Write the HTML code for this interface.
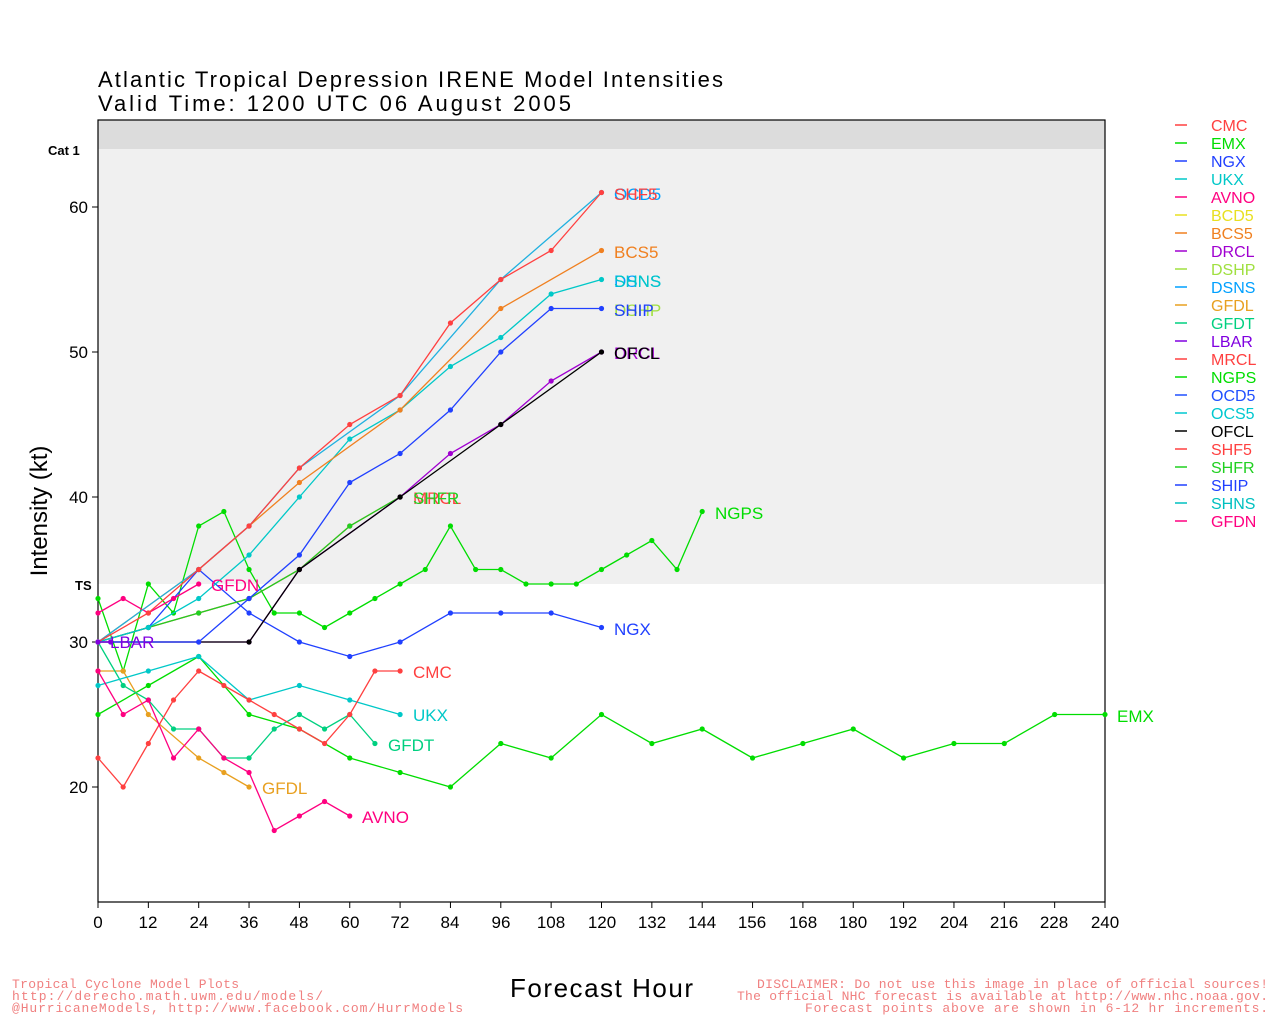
<!DOCTYPE html>
<html><head><meta charset="utf-8"><style>
body{margin:0;background:#fff;}
svg{display:block;font-family:"Liberation Sans",sans-serif;}
</style></head><body>
<svg id="s" width="1280" height="1024" xmlns="http://www.w3.org/2000/svg">
<rect x="0" y="0" width="1280" height="1024" fill="#fff"/>
<rect x="98" y="120" width="1007" height="29" fill="#dcdcdc"/>
<rect x="98" y="149" width="1007" height="435" fill="#f0f0f0"/>
<rect x="98" y="120" width="1007" height="782" fill="none" stroke="#000" stroke-width="1.2"/>
<text x="98" y="87" font-size="22" textLength="625" lengthAdjust="spacing">Atlantic Tropical Depression IRENE Model Intensities</text>
<text x="98" y="111" font-size="22" textLength="473" lengthAdjust="spacing">Valid Time: 1200 UTC 06 August 2005</text>
<text x="48" y="155" font-size="13" font-weight="bold">Cat 1</text>
<text x="75" y="590" font-size="13" font-weight="bold">TS</text>
<g font-size="17" text-anchor="end">
<text x="88" y="213">60</text><text x="88" y="358">50</text><text x="88" y="503">40</text><text x="88" y="648">30</text><text x="88" y="793">20</text>
</g>
<g stroke="#000"><line x1="92" y1="207" x2="98" y2="207"/><line x1="92" y1="352" x2="98" y2="352"/><line x1="92" y1="497" x2="98" y2="497"/><line x1="92" y1="642" x2="98" y2="642"/><line x1="92" y1="787" x2="98" y2="787"/></g>
<text transform="translate(47,511) rotate(-90)" font-size="24" text-anchor="middle">Intensity (kt)</text>
<g id="xt" font-size="17" text-anchor="middle">
<text x="98" y="928">0</text><text x="148" y="928">12</text><text x="199" y="928">24</text><text x="249" y="928">36</text><text x="299" y="928">48</text><text x="350" y="928">60</text><text x="400" y="928">72</text><text x="450" y="928">84</text><text x="501" y="928">96</text><text x="551" y="928">108</text><text x="602" y="928">120</text><text x="652" y="928">132</text><text x="702" y="928">144</text><text x="752" y="928">156</text><text x="803" y="928">168</text><text x="853" y="928">180</text><text x="903" y="928">192</text><text x="954" y="928">204</text><text x="1004" y="928">216</text><text x="1054" y="928">228</text><text x="1105" y="928">240</text>
</g>
<text x="510" y="997" font-size="26" textLength="183" lengthAdjust="spacing">Forecast Hour</text>
<g font-size="13" fill="#f08080" font-family="Liberation Mono,monospace">
<text x="12" y="988" textLength="227" lengthAdjust="spacing">Tropical Cyclone Model Plots</text>
<text x="12" y="1000" textLength="311" lengthAdjust="spacing">http://derecho.math.uwm.edu/models/</text>
<text x="12" y="1012" textLength="451" lengthAdjust="spacing">@HurricaneModels, http://www.facebook.com/HurrModels</text>
<text x="757" y="988" textLength="511" lengthAdjust="spacing">DISCLAIMER: Do not use this image in place of official sources!</text>
<text x="737" y="1000" textLength="531" lengthAdjust="spacing">The official NHC forecast is available at http://www.nhc.noaa.gov.</text>
<text x="805" y="1012" textLength="463" lengthAdjust="spacing">Forecast points above are shown in 6-12 hr increments.</text>
</g>
<g id="lines"></g>
<g font-size="17">
<text x="614" y="200" fill="#00a0ff">OCD5</text><text x="614" y="200" fill="#ff4040">SHF5</text>
<text x="614" y="258" fill="#f08020">BCS5</text>
<text x="614" y="287" fill="#00a0ff">DSNS</text><text x="614" y="287" fill="#00c8c8">SHNS</text>
<text x="614" y="316" fill="#a0e040">DSHP</text><text x="614" y="316" fill="#2040ff">SHIP</text>
<text x="614" y="359" fill="#a000d0">DRCL</text><text x="614" y="359" fill="#000">OFCL</text>
<text x="413" y="504" fill="#ff4040">MRCL</text><text x="413" y="504" fill="#20d020">SHFR</text>
<text x="715" y="519" fill="#00dd00">NGPS</text>
<text x="211" y="591" fill="#ff0080">GFDN</text>
<text x="110" y="648" fill="#8000e0">LBAR</text>
<text x="614" y="635" fill="#2040ff">NGX</text>
<text x="413" y="678" fill="#ff4040">CMC</text>
<text x="413" y="721" fill="#00c8c8">UKX</text>
<text x="388" y="751" fill="#00d080">GFDT</text>
<text x="1117" y="722" fill="#00dd00">EMX</text>
<text x="262" y="794" fill="#e8a020">GFDL</text>
<text x="362" y="823" fill="#ff0080">AVNO</text>
</g>
<g font-size="16">
<text x="1211" y="131" fill="#ff4040">CMC</text>
<text x="1211" y="149" fill="#00dd00">EMX</text>
<text x="1211" y="167" fill="#2040ff">NGX</text>
<text x="1211" y="185" fill="#00c8c8">UKX</text>
<text x="1211" y="203" fill="#ff0080">AVNO</text>
<text x="1211" y="221" fill="#e8e020">BCD5</text>
<text x="1211" y="239" fill="#f08020">BCS5</text>
<text x="1211" y="257" fill="#a000d0">DRCL</text>
<text x="1211" y="275" fill="#a0e040">DSHP</text>
<text x="1211" y="293" fill="#00a0ff">DSNS</text>
<text x="1211" y="311" fill="#e8a020">GFDL</text>
<text x="1211" y="329" fill="#00d080">GFDT</text>
<text x="1211" y="347" fill="#8000e0">LBAR</text>
<text x="1211" y="365" fill="#ff4040">MRCL</text>
<text x="1211" y="383" fill="#00dd00">NGPS</text>
<text x="1211" y="401" fill="#2050ff">OCD5</text>
<text x="1211" y="419" fill="#00c8d0">OCS5</text>
<text x="1211" y="437" fill="#000">OFCL</text>
<text x="1211" y="455" fill="#ff4040">SHF5</text>
<text x="1211" y="473" fill="#20d020">SHFR</text>
<text x="1211" y="491" fill="#2040ff">SHIP</text>
<text x="1211" y="509" fill="#00c0c0">SHNS</text>
<text x="1211" y="527" fill="#ff0080">GFDN</text>
</g>
<g id="leg"></g>
</svg>
<script>
var X=function(h){return 98+h*1007/240},Y=function(v){return 207+(60-v)*14.5};
var S=[
["#00dd00",[0,25,12,27,24,29,36,25,48,24,60,22,72,21,84,20,96,23,108,22,120,25,132,23,144,24,156,22,168,23,180,24,192,22,204,23,216,23,228,25,240,25]],
["#00dd00",[0,33,6,28,12,34,18,32,24,38,30,39,36,35,42,32,48,32,54,31,60,32,66,33,72,34,78,35,84,38,90,35,96,35,102,34,108,34,114,34,120,35,126,36,132,37,138,35,144,39]],
["#2040ff",[0,30,12,31,24,35,36,32,48,30,60,29,72,30,84,32,96,32,108,32,120,31]],
["#e8a020",[0,28,6,28,12,25,24,22,30,21,36,20]],
["#00d080",[0,30,6,27,12,26,18,24,24,24,30,22,36,22,42,24,48,25,54,24,60,25,66,23]],
["#00c8c8",[0,27,12,28,24,29,36,26,48,27,60,26,72,25]],
["#ff4040",[0,22,6,20,12,23,18,26,24,28,30,27,36,26,42,25,48,24,54,23,60,25,66,28,72,28]],
["#ff0080",[0,28,6,25,12,26,18,22,24,24,30,22,36,21,42,17,48,18,54,19,60,18]],
["#ff0080",[0,32,6,33,12,32,18,33,24,34]],
["#ff4040",[0,30,12,31,24,32,36,33,48,35,60,38,72,40]],
["#20d020",[0,30,12,31,24,32,36,33,48,35,60,38,72,40]],
["#a000d0",[0,30,24,30,36,30,48,35,72,40,84,43,96,45,108,48,120,50]],
["#000000",[0,30,36,30,48,35,72,40,96,45,120,50]],
["#2040ff",[0,30,24,30,36,33,48,36,60,41,72,43,84,46,96,50,108,53,120,53]],
["#00c8c8",[0,30,12,31,24,33,36,36,48,40,60,44,72,46,84,49,96,51,108,54,120,55]],
["#f08020",[0,30,24,35,36,38,48,41,72,46,96,53,120,57]],
["#20b0e0",[0,30,24,35,36,38,48,42,72,47,96,55,120,61]],
["#ff4040",[0,30,12,32,24,35,36,38,48,42,60,45,72,47,84,52,96,55,108,57,120,61]],
["#8000e0",[0,30,3,30]]
];
var ns="http://www.w3.org/2000/svg",g=document.getElementById("lines");
S.forEach(function(s){var p=[],d=s[1];for(var i=0;i<d.length;i+=2)p.push(X(d[i]).toFixed(1)+","+Y(d[i+1]).toFixed(1));
var pl=document.createElementNS(ns,"polyline");pl.setAttribute("points",p.join(" "));pl.setAttribute("fill","none");pl.setAttribute("stroke",s[0]);pl.setAttribute("stroke-width","1.3");g.appendChild(pl);
for(var i=0;i<d.length;i+=2){var c=document.createElementNS(ns,"circle");c.setAttribute("cx",X(d[i]));c.setAttribute("cy",Y(d[i+1]));c.setAttribute("r","2.6");c.setAttribute("fill",s[0]);g.appendChild(c);}});
var cols=["#ff4040","#00dd00","#2040ff","#00c8c8","#ff0080","#e8e020","#f08020","#a000d0","#a0e040","#00a0ff","#e8a020","#00d080","#8000e0","#ff4040","#00dd00","#2050ff","#00c8d0","#000","#ff4040","#20d020","#2040ff","#00c0c0","#ff0080"];
var lg=document.getElementById("leg");
cols.forEach(function(c,i){var l=document.createElementNS(ns,"line");var y=125+i*18;l.setAttribute("x1",1175);l.setAttribute("x2",1187);l.setAttribute("y1",y);l.setAttribute("y2",y);l.setAttribute("stroke",c);l.setAttribute("stroke-width","1.5");lg.appendChild(l);});
var xt=document.getElementById("xt");
for(var h=0;h<=240;h+=12){var l=document.createElementNS(ns,"line");l.setAttribute("x1",X(h));l.setAttribute("x2",X(h));l.setAttribute("y1",902);l.setAttribute("y2",908);l.setAttribute("stroke","#000");xt.appendChild(l);}
</script>
</body></html>
